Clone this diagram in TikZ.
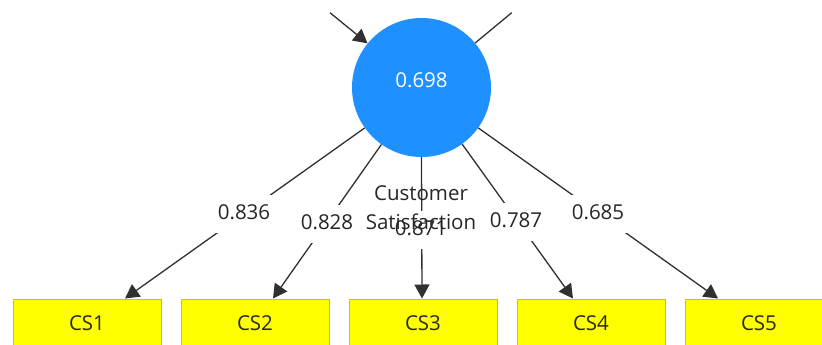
\documentclass[tikz,border=0pt]{standalone}
\usepackage{fontspec}
\setmainfont{Open Sans}
\usetikzlibrary{arrows.meta}
\definecolor{lvblue}{HTML}{1E90FF}
\definecolor{indyellow}{HTML}{FFFF00}
\definecolor{indedge}{HTML}{C8C800}
\definecolor{inktext}{HTML}{262626}
\definecolor{linkgray}{HTML}{303030}
\begin{document}
\begin{tikzpicture}[x=1pt,y=-1pt,
  lbl/.style={font=\fontsize{20.5}{29}\selectfont},
  latent/.style={circle, fill=lvblue, minimum size=139pt, inner sep=0pt},
  indicator/.style={rectangle, fill=indyellow, draw=indedge, line width=1pt,
    minimum width=148pt, minimum height=49pt, inner sep=0pt, lbl, text=inktext},
  link/.style={draw=linkgray, line width=1.3pt},
  loading/.style={link, -{Triangle[length=14pt,width=15pt]}},
  weight/.style={fill=white, inner xsep=3pt, inner ysep=10pt,
    text height=14pt, text depth=4pt, text=inktext, lbl}]
\useasboundingbox (0,0) rectangle (822,345);
\clip (0,0) rectangle (822,345);

% latent variable
\node[latent] (cs) at (421.5,87.5) {};

% indicator boxes
\node[indicator] (i1) at (87,323.5) {CS1};
\node[indicator] (i2) at (255,323.5) {CS2};
\node[indicator] (i3) at (423,323.5) {CS3};
\node[indicator] (i4) at (591,323.5) {CS4};
\node[indicator] (i5) at (759,323.5) {CS5};

% paths entering and leaving from above
\coordinate (inA) at (330,12.7);
\coordinate (outB) at (511.7,12.7);
\draw[loading] (inA) -- (cs);
\draw[link] (cs) -- (outB);

% outer loadings
\draw[loading] (cs) -- ([xshift=38pt]i1.north);
\draw[loading] (cs) -- ([xshift=18pt]i2.north);
\draw[loading] (cs.center |- cs.south) -- ([xshift=-1pt]i3.north);
\draw[loading] (cs) -- ([xshift=-18pt]i4.north);
\draw[loading] (cs) -- ([xshift=-41pt]i5.north);

% loading values
\node[weight] (w1) at (244,214) {0.836};
\node[weight] (w2) at (327,224) {0.828};
\node[weight] (w3) at (421,230) {0.871};
\node[weight] (w4) at (516,222) {0.787};
\node[weight] (w5) at (598,214) {0.685};

% R-squared and construct name
\node[lbl, text=white] (r2) at (421.5,80) {0.698};
\node[lbl, text=inktext, align=center, inner sep=0pt] (csname) at (421,207.5)
  {Customer\\Satisfaction};
\end{tikzpicture}
\end{document}
